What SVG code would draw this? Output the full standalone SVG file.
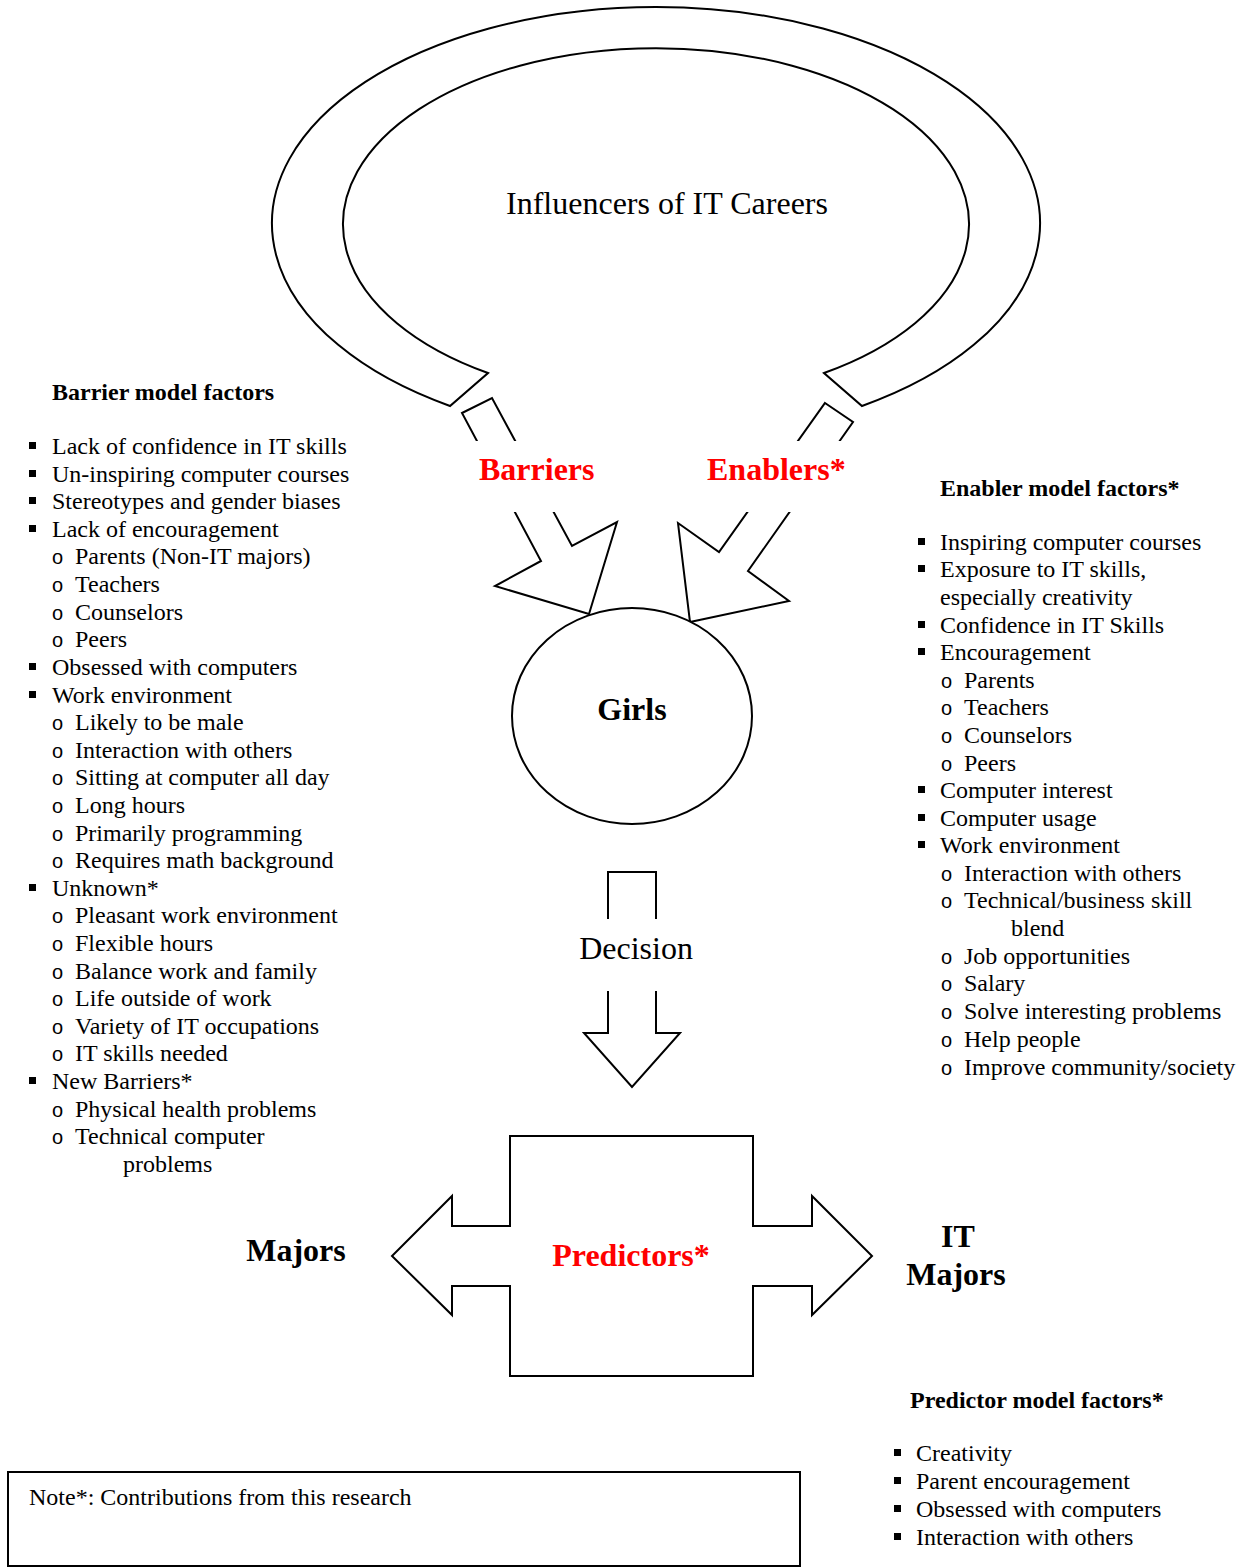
<svg xmlns="http://www.w3.org/2000/svg" width="1244" height="1568" viewBox="0 0 1244 1568">
<style>
text{font-family:"Liberation Serif","Times New Roman",serif;fill:#000;}
.t{font-size:24px;}
.h{font-size:24px;font-weight:bold;}
.big{font-size:32px;}
.bigb{font-size:32px;font-weight:bold;}
.red{fill:#ff0000;}
.o{font-family:"Liberation Sans",Arial,sans-serif;font-size:20px;}
.shape{fill:#fff;stroke:#000;stroke-width:2;stroke-linejoin:miter;}
.bg{fill:#fff;stroke:none;}
.sq{fill:#000;}
</style>
<rect x="0" y="0" width="1244" height="1568" fill="#fff"/>

<g id="influencers">
<path class="shape" d="M450,406 A384,216.4 0 1 1 862,406 L824,373 A313,176.2 0 1 0 488,373 Z"/>
<text class="big" x="667" y="214" text-anchor="middle">Influencers of IT Careers</text>
</g>

<g id="connectors">
<g id="barriers-arrow">
<polygon class="shape" points="462,413 492,398 572,546 617,522 589,614 495,586 541,561"/>
<rect class="bg" x="455" y="441" width="170" height="71"/>
<text class="bigb red" x="479" y="480">Barriers</text>
</g>
<g id="enablers-arrow">
<polygon class="shape" points="825,403 853,422 748,571 789,601 690,622 678,523 719,552"/>
<rect class="bg" x="690" y="441" width="180" height="71"/>
<text class="bigb red" x="707" y="480">Enablers*</text>
</g>
<g id="decision-arrow">
<polygon class="shape" points="608,872 656,872 656,1033 680,1033 632,1087 584,1033 608,1033"/>
<rect class="bg" x="575" y="919" width="125" height="72"/>
<text class="big" x="636" y="959" text-anchor="middle">Decision</text>
</g>
</g>

<g id="girls">
<ellipse class="shape" cx="632" cy="716" rx="120" ry="108"/>
<text class="bigb" x="632" y="720" text-anchor="middle">Girls</text>
</g>

<g id="predictors">
<polygon class="shape" points="510,1136 753,1136 753,1226 812,1226 812,1196 872,1256 812,1315 812,1286 753,1286 753,1376 510,1376 510,1286 452,1286 452,1315 392,1256 452,1196 452,1226 510,1226"/>
<text class="bigb red" x="631" y="1266" text-anchor="middle">Predictors*</text>
</g>

<g id="majors">
<text class="bigb" x="296" y="1261" text-anchor="middle">Majors</text>
</g>

<g id="it-majors">
<text class="bigb" x="958" y="1247" text-anchor="middle">IT</text>
<text class="bigb" x="956" y="1285" text-anchor="middle">Majors</text>
</g>

<g id="barrier-factors">
<text class="h" x="52" y="400">Barrier model factors</text>
<rect class="sq" x="29" y="442" width="7" height="7"/><text class="t" x="52" y="454">Lack of confidence in IT skills</text>
<rect class="sq" x="29" y="470" width="7" height="7"/><text class="t" x="52" y="482">Un-inspiring computer courses</text>
<rect class="sq" x="29" y="497" width="7" height="7"/><text class="t" x="52" y="509">Stereotypes and gender biases</text>
<rect class="sq" x="29" y="525" width="7" height="7"/><text class="t" x="52" y="537">Lack of encouragement</text>
<text class="o" x="52" y="564">o</text><text class="t" x="75" y="564">Parents (Non-IT majors)</text>
<text class="o" x="52" y="592">o</text><text class="t" x="75" y="592">Teachers</text>
<text class="o" x="52" y="620">o</text><text class="t" x="75" y="620">Counselors</text>
<text class="o" x="52" y="647">o</text><text class="t" x="75" y="647">Peers</text>
<rect class="sq" x="29" y="663" width="7" height="7"/><text class="t" x="52" y="675">Obsessed with computers</text>
<rect class="sq" x="29" y="691" width="7" height="7"/><text class="t" x="52" y="703">Work environment</text>
<text class="o" x="52" y="730">o</text><text class="t" x="75" y="730">Likely to be male</text>
<text class="o" x="52" y="758">o</text><text class="t" x="75" y="758">Interaction with others</text>
<text class="o" x="52" y="785">o</text><text class="t" x="75" y="785">Sitting at computer all day</text>
<text class="o" x="52" y="813">o</text><text class="t" x="75" y="813">Long hours</text>
<text class="o" x="52" y="841">o</text><text class="t" x="75" y="841">Primarily programming</text>
<text class="o" x="52" y="868">o</text><text class="t" x="75" y="868">Requires math background</text>
<rect class="sq" x="29" y="884" width="7" height="7"/><text class="t" x="52" y="896">Unknown*</text>
<text class="o" x="52" y="923">o</text><text class="t" x="75" y="923">Pleasant work environment</text>
<text class="o" x="52" y="951">o</text><text class="t" x="75" y="951">Flexible hours</text>
<text class="o" x="52" y="979">o</text><text class="t" x="75" y="979">Balance work and family</text>
<text class="o" x="52" y="1006">o</text><text class="t" x="75" y="1006">Life outside of work</text>
<text class="o" x="52" y="1034">o</text><text class="t" x="75" y="1034">Variety of IT occupations</text>
<text class="o" x="52" y="1061">o</text><text class="t" x="75" y="1061">IT skills needed</text>
<rect class="sq" x="29" y="1077" width="7" height="7"/><text class="t" x="52" y="1089">New Barriers*</text>
<text class="o" x="52" y="1117">o</text><text class="t" x="75" y="1117">Physical health problems</text>
<text class="o" x="52" y="1144">o</text><text class="t" x="75" y="1144">Technical computer</text>
<text class="t" x="123" y="1172">problems</text>
</g>

<g id="enabler-factors">
<text class="h" x="940" y="496">Enabler model factors*</text>
<rect class="sq" x="918" y="538" width="7" height="7"/><text class="t" x="940" y="550">Inspiring computer courses</text>
<rect class="sq" x="918" y="565" width="7" height="7"/><text class="t" x="940" y="577">Exposure to IT skills,</text>
<text class="t" x="940" y="605">especially creativity</text>
<rect class="sq" x="918" y="621" width="7" height="7"/><text class="t" x="940" y="633">Confidence in IT Skills</text>
<rect class="sq" x="918" y="648" width="7" height="7"/><text class="t" x="940" y="660">Encouragement</text>
<text class="o" x="941" y="688">o</text><text class="t" x="964" y="688">Parents</text>
<text class="o" x="941" y="715">o</text><text class="t" x="964" y="715">Teachers</text>
<text class="o" x="941" y="743">o</text><text class="t" x="964" y="743">Counselors</text>
<text class="o" x="941" y="771">o</text><text class="t" x="964" y="771">Peers</text>
<rect class="sq" x="918" y="786" width="7" height="7"/><text class="t" x="940" y="798">Computer interest</text>
<rect class="sq" x="918" y="814" width="7" height="7"/><text class="t" x="940" y="826">Computer usage</text>
<rect class="sq" x="918" y="841" width="7" height="7"/><text class="t" x="940" y="853">Work environment</text>
<text class="o" x="941" y="881">o</text><text class="t" x="964" y="881">Interaction with others</text>
<text class="o" x="941" y="908">o</text><text class="t" x="964" y="908">Technical/business skill</text>
<text class="t" x="1011" y="936">blend</text>
<text class="o" x="941" y="964">o</text><text class="t" x="964" y="964">Job opportunities</text>
<text class="o" x="941" y="991">o</text><text class="t" x="964" y="991">Salary</text>
<text class="o" x="941" y="1019">o</text><text class="t" x="964" y="1019">Solve interesting problems</text>
<text class="o" x="941" y="1047">o</text><text class="t" x="964" y="1047">Help people</text>
<text class="o" x="941" y="1075">o</text><text class="t" x="964" y="1075">Improve community/society</text>
</g>

<g id="predictor-factors">
<text class="h" x="910" y="1408">Predictor model factors*</text>
<rect class="sq" x="894" y="1449" width="7" height="7"/><text class="t" x="916" y="1461">Creativity</text>
<rect class="sq" x="894" y="1477" width="7" height="7"/><text class="t" x="916" y="1489">Parent encouragement</text>
<rect class="sq" x="894" y="1505" width="7" height="7"/><text class="t" x="916" y="1517">Obsessed with computers</text>
<rect class="sq" x="894" y="1533" width="7" height="7"/><text class="t" x="916" y="1545">Interaction with others</text>
</g>

<g id="note">
<rect class="shape" x="8" y="1472" width="792" height="94"/>
<text class="t" x="29" y="1505">Note*: Contributions from this research</text>
</g>
</svg>
